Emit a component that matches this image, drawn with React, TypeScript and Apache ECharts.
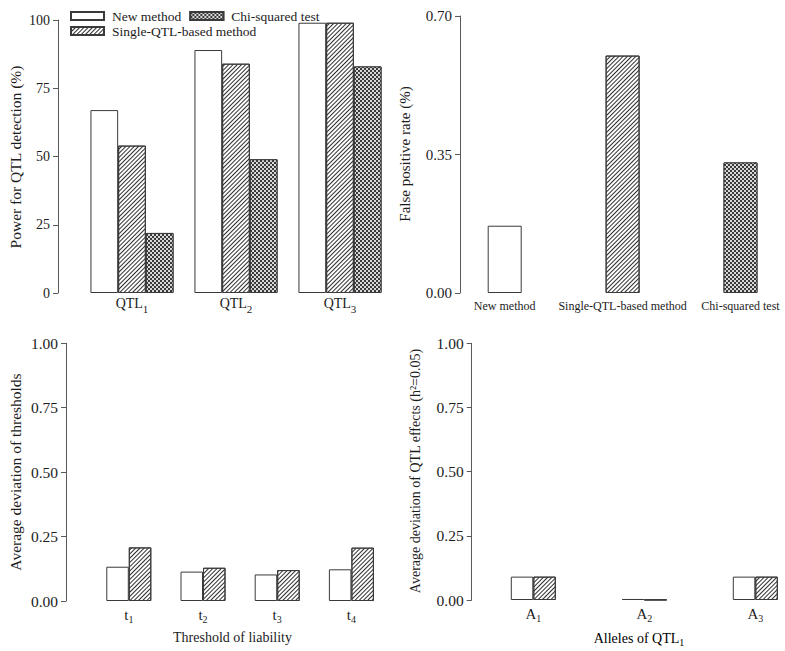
import React, { useEffect, useRef } from 'react';
import * as echarts from 'echarts';

// ---- data ----
const methodNames = ['New method', 'Single-QTL-based method', 'Chi-squared test'];

const powerCategories = ['QTL1', 'QTL2', 'QTL3'];
const powerNew = [67, 89, 99];
const powerSingle = [54, 84, 99];
const powerChi = [22, 49, 83];
const powerAxis = [0, 100, 25];

const fprCategories = ['New method', 'Single-QTL-based method', 'Chi-squared test'];
const fprValues = [0.17, 0.6, 0.33];
const fprAxis = [0, 0.7, 0.35];

const thresholdCategories = ['t1', 't2', 't3', 't4'];
const thresholdNew = [0.133, 0.114, 0.103, 0.123];
const thresholdSingle = [0.208, 0.129, 0.12, 0.207];
const devAxis = [0, 1, 0.25];

const alleleCategories = ['A1', 'A2', 'A3'];
const alleleNew = [0.091, 0.004, 0.091];
const alleleSingle = [0.091, 0.001, 0.091];

const titles = {
  power: 'Power for QTL detection (%)',
  fpr: 'False positive rate (%)',
  thr: 'Average deviation of thresholds',
  thrX: 'Threshold of liability',
  allele: 'Average deviation of QTL effects (h²=0.05)',
  alleleX: ['Alleles of QTL', '1'],
};

// ---- styles ----
const FONT = '"Liberation Serif", "Times New Roman", serif';
const TEXT = '#1c1c1c';
const AXIS = '#5a5a5a';
const BORDER = '#3a3a3a';

const hatchDecal = {
  symbol: 'rect',
  symbolSize: 1,
  dashArrayX: [1, 0],
  dashArrayY: [1, 2],
  rotation: -Math.PI / 4,
  color: '#2e2e2e',
};
const checkDecal = {
  symbol: 'rect',
  symbolSize: 1,
  dashArrayX: [[2, 2], [0, 2, 2, 0]],
  dashArrayY: [2, 0],
  rotation: 0,
  color: '#d8d8d8',
};

const styleNew = { color: '#ffffff', borderColor: BORDER, borderWidth: 1 };
const styleSingle = { color: '#ffffff', borderColor: BORDER, borderWidth: 1, decal: hatchDecal };
const styleChi = { color: '#3a3a3a', borderColor: BORDER, borderWidth: 1, decal: checkDecal };

function subRich(main: number, sub: number, drop: number) {
  return {
    m: { fontFamily: FONT, fontSize: main, color: TEXT, lineHeight: main, verticalAlign: 'top' },
    s: { fontFamily: FONT, fontSize: sub, color: TEXT, lineHeight: sub, padding: [drop, 0, 0, 0], verticalAlign: 'top' },
  };
}
const subFormatter = (v: string) => `{m|${v.slice(0, -1)}}{s|${v.slice(-1)}}`;

function yAxisFor(gridIndex: number, range: number[], offset: number, decimals: number, fontSize: number) {
  return {
    type: 'value',
    gridIndex,
    min: range[0],
    max: range[1],
    interval: range[2],
    offset,
    axisLine: { show: true, lineStyle: { color: AXIS, width: 1 } },
    axisTick: { show: true, length: 5, inside: false, lineStyle: { color: AXIS } },
    axisLabel: {
      margin: 8,
      fontFamily: FONT,
      fontSize,
      color: TEXT,
      formatter: (v: number) => v.toFixed(decimals),
    },
    splitLine: { show: false },
  };
}

function xAxisFor(gridIndex: number, data: string[], boundaryGap: boolean, margin: number, rich: any, fontSize: number) {
  return {
    type: 'category',
    gridIndex,
    data,
    boundaryGap,
    axisLine: { show: false },
    axisTick: { show: false },
    axisLabel: rich
      ? { margin, interval: 0, formatter: subFormatter, rich }
      : { margin, interval: 0, fontFamily: FONT, fontSize, color: TEXT },
    splitLine: { show: false },
  };
}

function vText(x: number, y: number, text: string, fontSize: number) {
  return {
    type: 'text',
    x,
    y,
    rotation: Math.PI / 2,
    style: {
      text,
      fontFamily: FONT,
      fontSize,
      fill: TEXT,
      textAlign: 'center',
      textVerticalAlign: 'middle',
      align: 'center',
      verticalAlign: 'middle',
    },
  };
}

export default function App() {
  const ref = useRef<HTMLDivElement>(null);

  useEffect(() => {
    if (!ref.current) return;
    const chart = echarts.init(ref.current, undefined, { renderer: 'svg' });

    const legendText = { fontFamily: FONT, fontSize: 13.5, color: TEXT, padding: [0, 0, 0, 3] };

    const option = {
      animation: false,
      backgroundColor: '#ffffff',
      textStyle: { fontFamily: FONT },
      legend: [
        {
          data: [methodNames[0], methodNames[2]],
          left: 65,
          top: 4,
          icon: 'rect',
          itemWidth: 33,
          itemHeight: 8,
          itemGap: 8,
          selectedMode: false,
          textStyle: legendText,
        },
        {
          data: [methodNames[1]],
          left: 65,
          top: 19,
          icon: 'rect',
          itemWidth: 33,
          itemHeight: 8,
          selectedMode: false,
          textStyle: legendText,
        },
      ],
      grid: [
        { left: 80, top: 20, width: 312, height: 273 },
        { left: 504.7, top: 16, width: 235.8, height: 277 },
        { left: 91.7, top: 343.3, width: 296.8, height: 257.7 },
        { left: 533.3, top: 343.3, width: 222, height: 256.7 },
      ],
      xAxis: [
        xAxisFor(0, powerCategories, true, 3, subRich(14, 11, 7), 14),
        xAxisFor(1, fprCategories, false, 7, null, 12),
        xAxisFor(2, thresholdCategories, true, 6, subRich(15, 10, 7), 15),
        xAxisFor(3, alleleCategories, false, 6, subRich(15, 10, 7), 15),
      ],
      yAxis: [
        yAxisFor(0, powerAxis, 22, 0, 14),
        yAxisFor(1, fprAxis, 44.7, 2, 15),
        yAxisFor(2, devAxis, 25.7, 2, 15.5),
        yAxisFor(3, devAxis, 61.6, 2, 15.5),
      ],
      series: [
        { type: 'bar', name: methodNames[0], xAxisIndex: 0, yAxisIndex: 0, data: powerNew, barWidth: 27.7, barGap: '0%', itemStyle: styleNew },
        { type: 'bar', name: methodNames[1], xAxisIndex: 0, yAxisIndex: 0, data: powerSingle, barWidth: 27.7, barGap: '0%', itemStyle: styleSingle },
        { type: 'bar', name: methodNames[2], xAxisIndex: 0, yAxisIndex: 0, data: powerChi, barWidth: 27.7, barGap: '0%', itemStyle: styleChi },
        {
          type: 'bar',
          name: 'False positive rate',
          xAxisIndex: 1,
          yAxisIndex: 1,
          barWidth: 34,
          clip: false,
          data: fprValues.map((v, i) => ({ value: v, itemStyle: [styleNew, styleSingle, styleChi][i] })),
        },
        { type: 'bar', name: 'Threshold: new method', xAxisIndex: 2, yAxisIndex: 2, data: thresholdNew, barWidth: 22.5, barGap: '0%', itemStyle: styleNew },
        { type: 'bar', name: 'Threshold: single-QTL-based method', xAxisIndex: 2, yAxisIndex: 2, data: thresholdSingle, barWidth: 22.5, barGap: '0%', itemStyle: styleSingle },
        { type: 'bar', name: 'Allele: new method', xAxisIndex: 3, yAxisIndex: 3, data: alleleNew, barWidth: 22.5, barGap: '0%', clip: false, itemStyle: styleNew },
        { type: 'bar', name: 'Allele: single-QTL-based method', xAxisIndex: 3, yAxisIndex: 3, data: alleleSingle, barWidth: 22.5, barGap: '0%', clip: false, itemStyle: styleSingle },
      ],
      graphic: [
        vText(15, 157, titles.power, 15.5),
        vText(405, 154, titles.fpr, 15),
        vText(15, 472, titles.thr, 15.5),
        vText(415, 471, titles.allele, 14),
        {
          type: 'text',
          x: 232.5,
          y: 637,
          style: {
            text: titles.thrX,
            fontFamily: FONT,
            fontSize: 14,
            fill: TEXT,
            textAlign: 'center',
            textVerticalAlign: 'middle',
            align: 'center',
            verticalAlign: 'middle',
          },
        },
        {
          type: 'text',
          x: 639,
          y: 631,
          style: {
            text: `{m|${titles.alleleX[0]}}{s|${titles.alleleX[1]}}`,
            rich: subRich(14, 10, 6),
            textAlign: 'center',
            align: 'center',
            verticalAlign: 'top',
            textVerticalAlign: 'top',
          },
        },
      ],
    };

    chart.setOption(option as any);
    return () => chart.dispose();
  }, []);

  return (
    <div
      ref={ref}
      style={{ position: 'absolute', left: 0, top: 0, width: 785, height: 651 }}
    />
  );
}
